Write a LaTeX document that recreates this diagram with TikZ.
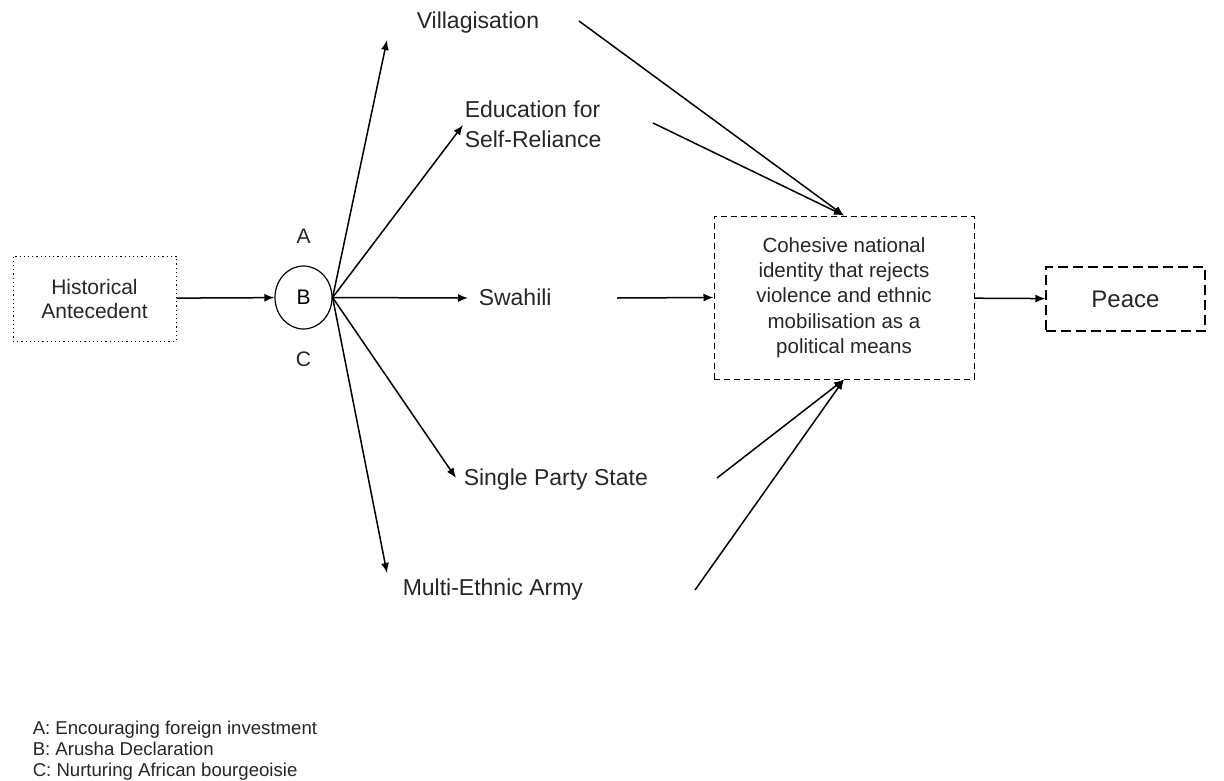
\documentclass[tikz,border=0pt]{standalone}
\usepackage{fontspec}
\setmainfont{Liberation Sans}
\usetikzlibrary{positioning}
\usetikzlibrary{shapes.geometric}
\usetikzlibrary{arrows.meta}

\begin{document}
\begin{tikzpicture}[x=1pt, y=-1pt, line width=1.5pt,
                    >={Latex[length=10pt, width=8pt]}]

                \def\d{21pt}

                % One unit is one pixel of the drawing, y runs downwards
                \useasboundingbox (0, 0) rectangle (1224, 780);

                \tikzset{
                    lbl/.style={inner sep=0pt, text=black!85,
                        font=\fontsize{23}{30}\selectfont},
                    abc/.style={inner sep=0pt, text=black!85,
                        font=\fontsize{21}{24}\selectfont},
                    dotbox/.style={draw, line width=1pt,
                        dash pattern=on 1.2pt off 3pt, align=center,
                        text=black!85},
                    dashbox/.style={draw, line width=1pt,
                        dash pattern=on 6pt off 4pt, align=center,
                        text=black!85},
                    longdash/.style={draw, line width=1.2pt,
                        dash pattern=on 10pt off 5pt, align=center,
                        text=black!85}
                }

                % Scope with the boxes and the labels
                \begin{scope}
                    \node[dotbox, minimum width=163pt, minimum height=85pt,
                        font=\fontsize{21}{24}\selectfont] (hist)
                        at (94.5, 298.5) {Historical\\Antecedent};
                    \node[ellipse, draw, line width=1.2pt, minimum width=57pt,
                        minimum height=63pt, inner sep=0pt,
                        font=\fontsize{21}{24}\selectfont] (b)
                        at (303.5, 297.5) {B};
                    \node[abc, above=\d of b] (a) {A};
                    \node[abc, below=\d of b] (c) {C};

                    \node[lbl, anchor=base west] (vil)
                        at (416, 28) {Villagisation};
                    \node[lbl, anchor=west, align=left] (edu)
                        at (464, 124) {Education for\\Self-Reliance};
                    \node[lbl, anchor=base west] (swa)
                        at (478, 305) {Swahili};
                    \node[lbl, anchor=base west] (sps)
                        at (463, 485) {Single Party State};
                    \node[lbl, anchor=base west] (mea)
                        at (402, 595) {Multi-Ethnic Army};

                    \node[dashbox, minimum width=260pt, minimum height=163pt,
                        font=\fontsize{20.5}{25.4}\selectfont] (coh)
                        at (844, 297.5)
                        {Cohesive national\\identity that rejects\\violence and ethnic\\mobilisation as a\\political means};
                    \node[longdash, minimum width=159pt, minimum height=64pt,
                        font=\fontsize{24}{28}\selectfont] (peace)
                        at (1125.5, 299) {Peace};

                    \node[anchor=north west, align=left, inner sep=0pt,
                        text=black!85, font=\fontsize{18.6}{21}\selectfont] (key)
                        at (32, 720)
                        {A: Encouraging foreign investment\\B: Arusha Declaration\\C: Nurturing African bourgeoisie};
                \end{scope}

                % tips of the arrows out of B, and loose ends into the box
                \coordinate (tv) at (387, 40);
                \coordinate (te) at (463, 125);
                \coordinate (ts) at (468, 298);
                \coordinate (tp) at (456, 478);
                \coordinate (tm) at (387, 573);
                \coordinate (sv) at (579, 21);
                \coordinate (se) at (653, 123);
                \coordinate (ss) at (617, 298);
                \coordinate (sp) at (717, 478);
                \coordinate (sm) at (695, 590);

                \begin{scope}[->]
                    \draw (hist) -- (b);
                    \draw (b.east) -- (tv);
                    \draw (b.east) -- (te);
                    \draw (b.east) -- (ts);
                    \draw (b.east) -- (tp);
                    \draw (b.east) -- (tm);
                    \draw (sv) -- (coh.north);
                    \draw (se) -- (coh.north);
                    \draw (ss) -- (coh.west);
                    \draw (sp) -- (coh.south);
                    \draw (sm) -- (coh.south);
                    \draw (coh) -- (peace);
                \end{scope}

\end{tikzpicture}
\end{document}
